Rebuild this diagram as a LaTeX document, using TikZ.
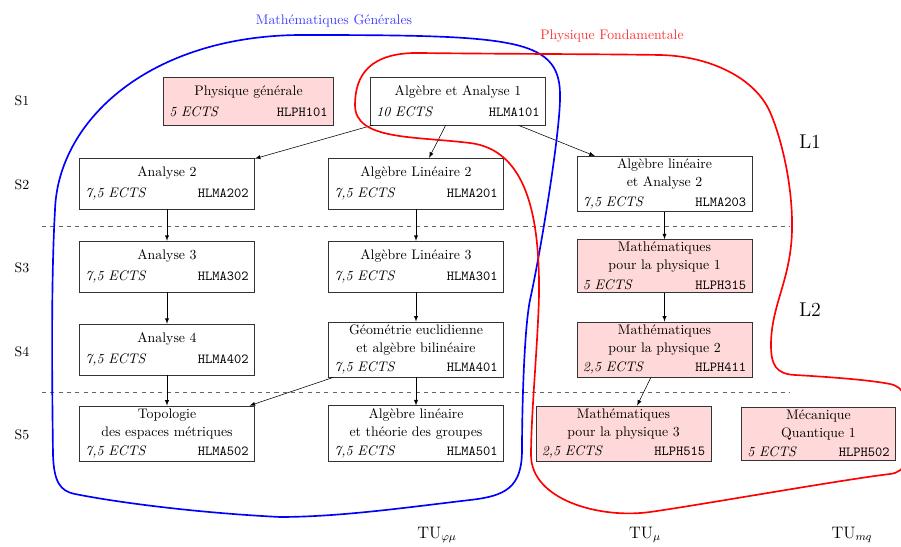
\documentclass[tikz,border=0pt]{standalone}
\usepackage{amsmath}
\usepackage{amssymb}
\usepackage{xcolor}
\usepackage{tikz}
\usetikzlibrary{positioning, arrows.meta, calc}

\newcommand{\ueline}[2]{\textit{#1}\hfill\texttt{#2}}

\begin{document}
\begin{tikzpicture}[
    x=0.0254cm, y=-0.0254cm,
    ue/.style={rectangle, draw=black!80, text width=118pt, inner xsep=4.35pt, inner ysep=2pt, minimum height=36.7pt, align=center, font=\normalsize},
    uephys/.style={ue, fill=red!15},
    prereq/.style={->, >=latex, draw=black},
    semester/.style={font=\normalsize},
    level/.style={font=\Large},
    track/.style={font=\large},
    sepline/.style={semithick, dashed, draw=black!60},
    mathzone/.style={line width=1.2pt, draw=blue},
    physzone/.style={line width=1.2pt, draw=red}
]
\clip (0,0) rectangle (901,547);

% Nodes
\node[uephys, text width=114.4pt, minimum height=34.6pt] (pg) at (248.5,101) {Physique générale\\[3pt] \ueline{5 ECTS}{HLPH101}};
\node[ue, minimum height=34.6pt] (a1) at (458,101) {Algèbre et Analyse 1\\[3pt] \ueline{10 ECTS}{HLMA101}};

\node[ue] (an2) at (167,183.5) {Analyse 2\\[3pt] \ueline{7,5 ECTS}{HLMA202}};
\node[ue] (al2) at (416,183.5) {Algèbre Linéaire 2\\[3pt] \ueline{7,5 ECTS}{HLMA201}};
\node[ue] (ala2) at (664.5,184) {Algèbre linéaire\\[1pt] et Analyse 2\\[2pt] \ueline{7,5 ECTS}{HLMA203}};

\node[ue] (an3) at (167,266.5) {Analyse 3\\[3pt] \ueline{7,5 ECTS}{HLMA302}};
\node[ue] (al3) at (416,266.5) {Algèbre Linéaire 3\\[3pt] \ueline{7,5 ECTS}{HLMA301}};
\node[uephys] (mp1) at (664.5,266) {Mathématiques\\[1pt] pour la physique 1\\[2pt] \ueline{5 ECTS}{HLPH315}};

\node[ue] (an4) at (167,349.5) {Analyse 4\\[3pt] \ueline{7,5 ECTS}{HLMA402}};
\node[ue] (geo) at (416,349.5) {Géométrie euclidienne\\[1pt] et algèbre bilinéaire\\[2pt] \ueline{7,5 ECTS}{HLMA401}};
\node[uephys] (mp2) at (664.5,349.5) {Mathématiques\\[1pt] pour la physique 2\\[2pt] \ueline{2,5 ECTS}{HLPH411}};

\node[ue] (topo) at (167,433.5) {Topologie\\[1pt] des espaces métriques\\[2pt] \ueline{7,5 ECTS}{HLMA502}};
\node[ue] (altg) at (416,433.5) {Algèbre linéaire\\[1pt] et théorie des groupes\\[2pt] \ueline{7,5 ECTS}{HLMA501}};
\node[uephys] (mp3) at (623.5,433.5) {Mathématiques\\[1pt] pour la physique 3\\[2pt] \ueline{2,5 ECTS}{HLPH515}};
\node[uephys, text width=102.9pt] (mq1) at (818.5,433.5) {Mécanique\\[1pt] Quantique 1\\[2pt] \ueline{5 ECTS}{HLPH502}};

% Semesters
\node[semester] (s1) at (22,101) {S1};
\node[semester] (s2) at (22,185) {S2};
\node[semester] (s3) at (22,268) {S3};
\node[semester] (s4) at (22,352) {S4};
\node[semester] (s5) at (22,435) {S5};

% Years and tracks
\node[level] (l1) at (810,142) {L1};
\node[level] (l2) at (810,310) {L2};
\node[track] (tu1) at (437,535) {TU$_{\varphi\mu}$};
\node[track] (tu2) at (645,535) {TU$_{\mu}$};
\node[track] (tu3) at (852,535) {TU$_{mq}$};

% Year separators
\coordinate (sep1l) at (42,226);
\coordinate (sep1r) at (790,226);
\coordinate (sep2l) at (42,392);
\coordinate (sep2r) at (790,392);
\draw[sepline] (sep1l) -- (sep1r);
\draw[sepline] (sep2l) -- (sep2r);

% Prerequisites
\draw[prereq] (a1) -- (an2);
\draw[prereq] (a1) -- (al2);
\draw[prereq] (a1) -- (ala2);
\draw[prereq] (an2) -- (an3);
\draw[prereq] (an3) -- (an4);
\draw[prereq] (an4) -- (topo);
\draw[prereq] (al2) -- (al3);
\draw[prereq] (al3) -- (geo);
\draw[prereq] (geo) -- (altg);
\draw[prereq] (geo) -- (topo);
\draw[prereq] (ala2) -- (mp1);
\draw[prereq] (mp1) -- (mp2);
\draw[prereq] (mp2) -- (mp3);

% Zones
\draw[mathzone] (300,35) .. controls (520,35) and (562,38) .. (560,100)
  .. controls (559,140) and (540,255) .. (530,300)
  .. controls (524,330) and (522,410) .. (522,450)
  .. controls (522,488) and (505,496) .. (470,500)
  .. controls (410,507) and (340,517) .. (280,517)
  .. controls (200,513) and (120,503) .. (75,494)
  .. controls (60,491) and (54,482) .. (53,455)
  .. controls (52,380) and (51,280) .. (55,210)
  .. controls (58,120) and (150,36) .. (300,35) -- cycle;
\node[font=\normalsize, text=blue!75] (mgtitle) at (334,21) {Mathématiques Générales};

\draw[physzone] (420,53) .. controls (500,54) and (600,54) .. (660,55)
  .. controls (710,56) and (755,78) .. (770,112)
  .. controls (781,137) and (793,185) .. (792,230)
  .. controls (791,280) and (771,305) .. (771,345)
  .. controls (771,365) and (776,374) .. (795,375)
  .. controls (830,377) and (870,380) .. (890,384)
  .. controls (905,387) and (909,400) .. (909,430)
  .. controls (909,460) and (906,472) .. (890,474)
  .. controls (840,480) and (700,505) .. (650,512)
  .. controls (600,519) and (531,500) .. (531,455)
  .. controls (531,410) and (540,320) .. (539,280)
  .. controls (538,220) and (528,150) .. (470,143)
  .. controls (412,136) and (355,140) .. (355,105)
  .. controls (355,75) and (370,52) .. (420,53) -- cycle;
\node[font=\normalsize, text=red!80] (pftitle) at (612,36) {Physique Fondamentale};

\end{tikzpicture}
\end{document}
